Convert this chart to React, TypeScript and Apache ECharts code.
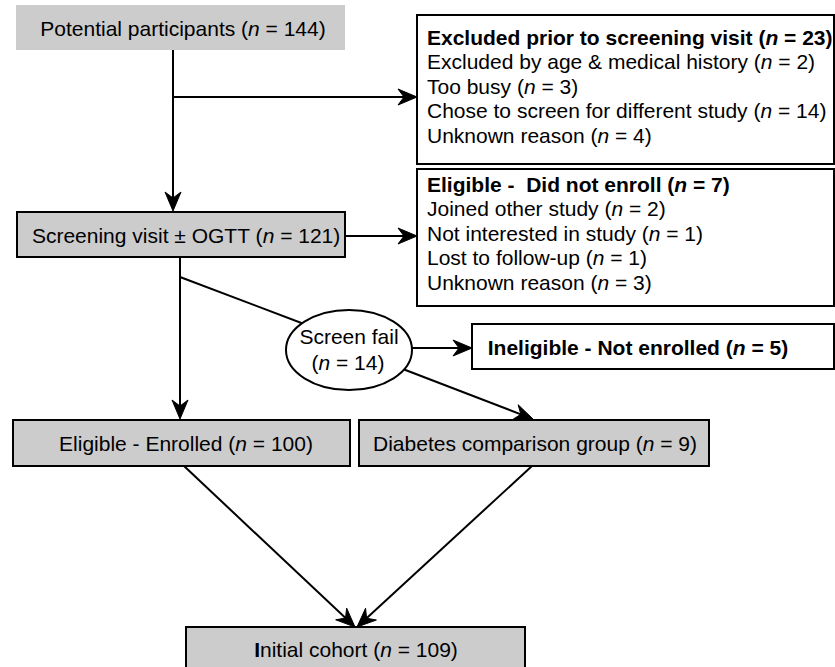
import React, { useEffect, useRef } from "react";
import * as echarts from "echarts";

// ---- data ----
const mainLabels = [
  "Potential participants",
  "Screening visit \u00b1 OGTT",
  "Eligible - Enrolled",
  "Diabetes comparison group",
  "Initial cohort",
];
const mainCounts = [144, 121, 100, 9, 109];

const excludedTitle = "Excluded prior to screening visit";
const excludedTotal = 23;
const excludedReasons = [
  "Excluded by age & medical history",
  "Too busy",
  "Chose to screen for different study",
  "Unknown reason",
];
const excludedCounts = [2, 3, 14, 4];

const dneTitle = "Eligible -\u00a0 Did not enroll";
const dneTotal = 7;
const dneReasons = [
  "Joined other study",
  "Not interested in study",
  "Lost to follow-up",
  "Unknown reason",
];
const dneCounts = [2, 1, 1, 3];

const screenFailLabel = "Screen fail";
const screenFailCount = 14;
const ineligibleLabel = "Ineligible - Not enrolled";
const ineligibleCount = 5;

// ---- layout (positions / styles) ----
const FONT = "'Liberation Sans', Arial, Helvetica, sans-serif";
const FS = 21;
const GRAY = "#cccccc";
const LW = 2;

const richPlain = {
  a: { fontFamily: FONT, fontSize: FS, fill: "#000", fontWeight: "normal" },
  i: { fontFamily: FONT, fontSize: FS, fill: "#000", fontStyle: "italic", fontWeight: "normal" },
  B: { fontFamily: FONT, fontSize: FS, fill: "#000", fontWeight: "bold" },
};
const richBold = {
  a: { fontFamily: FONT, fontSize: FS, fill: "#000", fontWeight: "bold" },
  i: { fontFamily: FONT, fontSize: FS, fill: "#000", fontStyle: "italic", fontWeight: "bold" },
};

function nText(label: string, count: number) {
  return `{a|${label} (}{i|n}{a| = ${count})}`;
}

function textEl(x: number, y: number, str: string, bold: boolean, align: string = "center") {
  return {
    type: "text",
    z: 10,
    style: {
      x,
      y,
      text: str,
      rich: bold ? richBold : richPlain,
      fontFamily: FONT,
      fontSize: FS,
      fontWeight: bold ? "bold" : "normal",
      fill: "#000",
      align,
      verticalAlign: "middle",
      textAlign: align,
      textVerticalAlign: "middle",
    },
  };
}

function rectEl(x: number, y: number, w: number, h: number, fill: string, stroke: boolean) {
  return {
    type: "rect",
    z: 2,
    shape: { x, y, width: w, height: h },
    style: { fill, stroke: stroke ? "#000" : null, lineWidth: stroke ? LW : 0 },
  };
}

function arrow(fx: number, fy: number, tx: number, ty: number) {
  const len = 19, hw = 8, notch = 6;
  const ang = Math.atan2(ty - fy, tx - fx);
  const dx = Math.cos(ang), dy = Math.sin(ang);
  const px = -dy, py = dx;
  const bx = tx - len * dx, by = ty - len * dy;
  const nx = tx - (len - notch) * dx, ny = ty - (len - notch) * dy;
  return [
    {
      type: "line",
      z: 1,
      shape: { x1: fx, y1: fy, x2: nx, y2: ny },
      style: { stroke: "#000", lineWidth: LW },
    },
    {
      type: "polygon",
      z: 5,
      shape: {
        points: [
          [tx, ty],
          [bx + hw * px, by + hw * py],
          [nx, ny],
          [bx - hw * px, by - hw * py],
        ],
      },
      style: { fill: "#000", stroke: "#000", lineWidth: 1 },
    },
  ];
}

function line(x1: number, y1: number, x2: number, y2: number) {
  return {
    type: "line",
    z: 1,
    shape: { x1, y1, x2, y2 },
    style: { stroke: "#000", lineWidth: LW },
  };
}

function buildGraphics() {
  const els: any[] = [];
  // Potential participants
  els.push(rectEl(16, 5, 329, 45, GRAY, false));
  els.push(textEl(183, 28, nText(mainLabels[0], mainCounts[0]), false));
  // Screening
  els.push(rectEl(17, 212, 328, 45, GRAY, true));
  els.push(textEl(186, 235, nText(mainLabels[1], mainCounts[1]), false));
  // Eligible enrolled
  els.push(rectEl(13, 420, 337, 46, GRAY, true));
  els.push(textEl(186, 443, nText(mainLabels[2], mainCounts[2]), false));
  // Diabetes comparison
  els.push(rectEl(359, 420, 350, 46, GRAY, true));
  els.push(textEl(535, 443, nText(mainLabels[3], mainCounts[3]), false));
  // Initial cohort
  els.push(rectEl(186, 627, 339, 46, GRAY, true));
  els.push(
    textEl(356, 649, `{B|${mainLabels[4].charAt(0)}}{a|${mainLabels[4].slice(1)} (}{i|n}{a| = ${mainCounts[4]})}`, false)
  );

  // Excluded box
  els.push(rectEl(417, 15, 417, 149, "#fff", true));
  els.push(textEl(427, 37, nText(excludedTitle, excludedTotal), true, "left"));
  excludedReasons.forEach((r, k) => {
    els.push(textEl(427, 61.5 + k * 24.5, nText(r, excludedCounts[k]), false, "left"));
  });

  // Did not enroll box
  els.push(rectEl(417, 169, 417, 137, "#fff", true));
  els.push(textEl(427, 184, nText(dneTitle, dneTotal), true, "left"));
  dneReasons.forEach((r, k) => {
    els.push(textEl(427, 208.5 + k * 24.5, nText(r, dneCounts[k]), false, "left"));
  });

  // Ineligible box
  els.push(rectEl(472, 324, 362, 45, "#fff", true));
  els.push(textEl(638, 347, nText(ineligibleLabel, ineligibleCount), true));

  // Screen fail ellipse
  els.push({
    type: "ellipse",
    z: 3,
    shape: { cx: 349, cy: 350, rx: 63, ry: 40 },
    style: { fill: "#fff", stroke: "#000", lineWidth: LW },
  });
  els.push(textEl(349, 336, `{a|${screenFailLabel}}`, false));
  els.push(textEl(348, 362, `{a|(}{i|n}{a| = ${screenFailCount})}`, false));

  // connectors
  els.push(...arrow(173, 50, 173, 211));
  els.push(...arrow(173, 97, 417, 97));
  els.push(...arrow(345, 236, 417, 236));
  els.push(...arrow(180, 257, 180, 419));
  els.push(line(180, 277, 312, 327));
  els.push(...arrow(412, 348, 472, 348));
  els.push(...arrow(395, 366, 533, 419));
  els.push(...arrow(184, 466, 355, 627));
  els.push(...arrow(532, 466, 357, 627));
  return els;
}

export default function App() {
  const ref = useRef<HTMLDivElement>(null);
  useEffect(() => {
    if (!ref.current) return;
    const chart = echarts.init(ref.current, null, { renderer: "svg" });
    chart.setOption({
      animation: false,
      backgroundColor: "#ffffff",
      graphic: { elements: buildGraphics() },
    });
    return () => chart.dispose();
  }, []);
  return (
    <div
      ref={ref}
      style={{ position: "absolute", left: 0, top: 0, width: 835, height: 667, background: "#fff" }}
    />
  );
}
